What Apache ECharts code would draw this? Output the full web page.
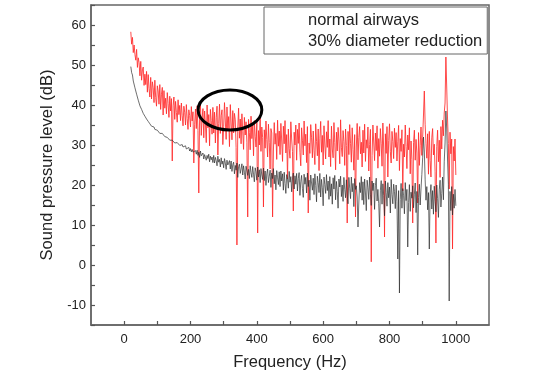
<!DOCTYPE html>
<html>
<head>
<meta charset="utf-8">
<script src="https://cdn.jsdelivr.net/npm/echarts@6/dist/echarts.min.js"></script>
<style>
html,body{margin:0;padding:0;background:#fff;}
#chart{width:559px;height:377px;}
</style>
</head>
<body>
<div id="chart"></div>
<script>
// Frequency grid (Hz): uniform FFT bins from 20 Hz to 1000 Hz, 2.5 Hz apart
var freqStart = 20, freqStep = 2.5;

// Sound pressure level (dB), one value per bin (one row = 50 Hz)
var normalAirways = [
  49.6, 48.1, 47.5, 46.0, 45.6, 44.3, 43.9, 42.7, 42.3, 41.2, 40.9, 39.8, 39.8, 38.9, 38.8, 37.9, 38.0, 37.2, 37.1, 36.5,
  36.6, 35.9, 35.9, 35.3, 35.4, 34.7, 34.8, 34.3, 34.5, 33.9, 34.0, 33.5, 33.7, 33.2, 33.4, 32.9, 33.2, 32.7, 32.9, 32.4,
  32.5, 32.1, 32.2, 31.7, 31.9, 31.4, 31.7, 31.2, 31.4, 30.9, 31.2, 30.7, 31.0, 30.5, 30.8, 30.3, 30.6, 30.1, 30.5, 29.9,
  30.4, 29.7, 30.1, 29.5, 29.9, 29.2, 29.8, 29.0, 29.5, 28.8, 29.4, 28.5, 29.1, 28.3, 28.9, 28.2, 28.7, 27.8, 28.6, 27.7,
  28.7, 27.4, 28.2, 26.9, 28.5, 27.3, 26.8, 28.0, 26.5, 27.6, 27.9, 26.2, 27.4, 26.6, 27.7, 25.8, 27.2, 26.3, 27.0, 25.6,
  27.4, 25.5, 26.9, 26.1, 24.8, 27.2, 25.7, 26.4, 24.5, 26.8, 25.2, 26.0, 24.3, 26.6, 25.5, 23.9, 26.2, 25.0, 24.6, 26.1,
  24.0, 26.0, 23.4, 25.1, 25.7, 22.8, 24.9, 23.7, 25.5, 21.9, 24.6, 25.2, 22.9, 24.0, 25.3, 22.5, 24.8, 23.2, 21.5, 24.7,
  25.0, 22.4, 23.9, 21.6, 24.8, 23.1, 21.9, 24.6, 22.7, 20.8, 24.3, 23.3, 21.2, 24.5, 22.0, 23.8, 20.6, 24.1, 22.5, 21.4,
  24.2, 21.1, 23.5, 19.9, 22.8, 24.0, 20.6, 22.2, 23.7, 19.4, 23.0, 21.6, 24.1, 20.3, 22.5, 18.8, 23.6, 21.8, 20.1, 23.3,
  19.6, 23.5, 21.0, 22.8, 18.7, 23.2, 20.4, 17.9, 22.6, 21.5, 19.2, 23.4, 20.7, 22.1, 18.3, 21.8, 23.0, 19.0, 22.3, 20.2,
  22.9, 18.5, 21.6, 23.1, 17.4, 20.8, 22.4, 19.1, 16.9, 22.7, 20.2, 21.9, 18.0, 23.0, 19.6, 21.2, 16.2, 22.5, 20.5, 18.7,
  21.7, 17.6, 22.8, 19.9, 15.8, 22.2, 20.6, 18.1, 22.9, 17.0, 21.4, 19.3, 14.8, 22.0, 20.1, 17.9, 22.6, 18.6, 21.0, 16.4,
  22.1, 17.2, 20.3, 15.2, 21.8, 19.0, 22.4, 16.3, 20.9, 18.4, 14.2, 21.5, 19.5, 22.2, 17.1, 20.0, 15.9, 21.9, 18.9, 16.8,
  21.3, 17.5, 15.3, 21.9, 19.2, 16.6, 22.0, 18.3, 20.4, 14.6, 21.6, 18.9, 19.8, 17.0,  9.5, 15.5, 20.6, 18.1, 22.1, 16.2,
  20.8, 15.1, 21.5, 18.0, 13.6, 21.2, 19.3, 16.4, 22.0, 17.7, 14.9, 21.0, 18.6, 20.5, 13.9, 19.8, 21.7, 16.0, 18.9, 15.4,
   9.5, 18.7, 21.1, 15.2, 20.3, 17.4, 12.3, 21.0, 18.1, 14.7, 20.6, 16.8, 19.5, 13.0, 21.4, 17.6, 15.3, 20.2, 18.4, 14.1,
  20.0, 15.9,  1.5, 18.6, -7.0, 16.4, 20.4, 14.2, 19.1, 17.3, 12.8, 20.6, 16.1, 18.9,  4.5, 15.6, 20.1, 13.4, 18.2, 16.7,
  19.8, 14.3, 17.7, 20.5, 13.1, 18.4,  2.5, 16.9, 20.2, 15.0, 19.0, 22.6, 26.8, 32.0, 28.5, 21.3, 16.2, 19.6, 13.8, 18.1,
   4.0, 17.5, 20.1, 14.0, 18.6, 12.7, 19.7, 15.9, 13.3, 20.0, 16.6, 11.9, 18.8, 21.2, 14.5, 17.9, 22.0, 16.3, 25.8, 30.5,
  38.5, 34.0, 26.5, 20.2, -9.0, 18.4, 13.6, 19.6, 12.5, 17.7, 14.2, 18.9, 14.8
];

var diameterReduction = [
  58.3, 55.2, 56.9, 53.1, 55.0, 52.6, 51.2, 53.9, 49.4, 51.8, 50.6, 47.3, 50.9, 46.2, 48.8, 49.5, 44.9, 47.7, 45.1, 48.4,
  43.2, 47.6, 44.1, 42.0, 46.9, 41.5, 45.8, 44.3, 40.6, 46.2, 41.9, 39.7, 44.8, 43.5, 40.2, 45.1, 38.9, 42.7, 44.4, 37.5,
  43.6, 39.2, 41.7, 37.8, 43.1, 40.4, 36.9, 42.2, 38.5, 41.6, 26.0, 39.8, 42.0, 36.4, 40.9, 38.1, 35.7, 41.3, 37.6, 39.9,
  36.1, 40.5, 37.3, 34.8, 39.7, 38.2, 35.0, 40.1, 36.6, 33.9, 38.8, 37.4, 34.5, 39.6, 36.0, 38.3, 25.5, 35.2, 39.0, 34.1,
  39.8, 33.6, 18.0, 37.9, 40.3, 32.4, 36.7, 39.1, 31.8, 38.5, 35.2, 30.6, 40.0, 34.3, 37.6, 29.8, 38.9, 36.1, 32.7, 39.4,
  33.0, 38.2, 30.5, 36.8, 39.7, 27.5, 35.4, 40.2, 32.9, 37.3, 38.8, 30.1, 34.6, 40.6, 36.0, 31.4, 39.5, 33.8, 37.1, 29.6,
  40.1, 35.5, 31.3, 38.6, 33.0, 37.9, 36.3, 29.4,  5.0, 34.2, 39.2, 31.7, 36.5, 30.3, 37.8, 33.4, 28.9, 36.9, 32.5, 35.8,
  30.7, 12.0, 36.4, 33.1, 28.8, 37.2, 31.6, 34.9, 27.3, 36.1, 32.2, 29.5, 35.7,  8.0, 33.6, 30.0, 36.8, 28.4, 34.5, 31.9,
  14.5, 33.8, 29.2, 36.0, 31.4, 27.0, 35.2, 30.6, 24.0, 34.1, 33.0, 12.0, 28.5, 35.6, 30.2, 32.9, 26.4, 36.2, 29.7, 33.5,
  27.6, 35.4, 31.0, 25.9, 34.7, 30.3, 36.1, 28.0, 32.6, 21.5, 34.0, 29.1, 26.7, 35.8, 31.5, 28.4, 13.5, 33.2, 30.0, 35.0,
  26.2, 33.9, 30.4, 35.5, 28.1, 24.8, 34.3, 31.2, 27.5, 36.0, 29.8, 32.7, 25.6, 34.6, 13.0, 30.5, 27.9, 35.1, 31.8, 26.8,
  33.5, 28.7, 25.1, 35.3, 30.9, 27.3, 34.0, 23.6, 31.7, 35.9, 28.2, 32.4, 25.0, 34.8, 30.0, 26.5, 33.3, 29.4, 36.1, 27.0,
  31.5, 24.6, 34.7, 29.0, 26.8, 35.6, 30.6, 23.8, 33.2, 28.5, 34.4, 31.0, 25.3, 36.3, 29.3, 27.1, 33.6, 30.8, 24.9, 34.0,
  29.9, 10.5, 33.4, 27.6, 35.1, 30.4, 25.7, 34.3, 28.9, 23.7, 32.6, 12.0, 29.5, 35.4, 26.3, 31.9, 34.6, 27.8, 30.7, 24.5,
  33.7, 28.0, 35.2, 25.9, 31.3, 29.2, 34.5, 23.5, 30.1, 33.9,  0.8, 27.4, 35.0, 30.5, 26.1, 33.0, 28.6, 34.8, 24.2, 31.6,
  27.2, 34.1, 30.3, 24.7, 35.5, 29.0,  7.0, 32.8, 27.9, 34.6, 22.0, 31.1, 35.3, 28.3, 25.5, 33.4, 30.9, 26.6, 34.2, 29.4,
  33.1, 26.0, 30.8, 34.9, 23.6, 31.6, 28.4, 33.8, 18.5, 30.2, 27.0, 35.0, 29.6, 24.1, 32.5, 28.8, 34.3, 22.8, 31.0, 26.4,
  10.5, 30.6, 33.7, 26.2, 31.4, 28.0, 15.5, 33.1, 24.9, 29.8, 34.5, 27.4, 31.9, 37.5, 43.5, 35.2, 30.3, 26.7, 32.8, 22.7,
  33.4, 26.1, 22.0, 31.8, 34.1, 27.5, 30.2, 23.3,  5.5, 29.6, 33.7, 25.8, 31.2, 21.9, 34.6, 29.0, 36.2, 32.3, 38.0, 40.5,
  52.0, 44.5, 36.5, 30.4, 19.0, 33.2, 27.8, 31.5,  4.0, 29.6, 26.0, 31.5, 22.5
];

var seriesNames = ['normal airways', '30% diameter reduction'];
var xTickLabels = ['0', '200', '400', '600', '800', '1000'];
var yTickLabels = ['-10', '0', '10', '20', '30', '40', '50', '60'];

function pairs(vals) {
  var out = [];
  for (var i = 0; i < vals.length; i++) out.push([freqStart + i * freqStep, vals[i]]);
  return out;
}

var chart = echarts.init(document.getElementById('chart'), null, {renderer: 'canvas'});
var font = '"Liberation Sans", Arial, sans-serif';

var option = {
  animation: false,
  backgroundColor: '#fff',
  grid: {
    left: 91, right: 70, top: 5, bottom: 52,
    show: true, borderColor: '#666', borderWidth: 1.5, backgroundColor: 'transparent'
  },
  legend: {
    data: [
      {name: seriesNames[0], icon: 'none'},
      {name: seriesNames[1], icon: 'none'}
    ],
    orient: 'vertical',
    left: 264, top: 7,
    padding: [5, 5, 4, 9],
    itemWidth: 30, itemHeight: 14, itemGap: 4,
    borderColor: '#666', borderWidth: 1, borderRadius: 0,
    backgroundColor: '#fff',
    selectedMode: false,
    textStyle: {fontFamily: font, fontSize: 16.5, color: '#222', lineHeight: 16}
  },
  xAxis: {
    type: 'value',
    min: -100, max: 1100, interval: 100,
    name: 'Frequency (Hz)',
    nameLocation: 'middle', nameGap: 29,
    nameTextStyle: {fontFamily: font, fontSize: 16.5, color: '#222'},
    axisLine: {show: true, onZero: false, lineStyle: {color: '#666', width: 1.5}},
    axisTick: {show: true, inside: true, length: 4, lineStyle: {color: '#555', width: 1.2}},
    axisLabel: {
      fontFamily: font, fontSize: 13, color: '#222', margin: 8,
      showMinLabel: false, showMaxLabel: false,
      formatter: function (v) {
        var s = String(v);
        return xTickLabels.indexOf(s) >= 0 ? s : '';
      }
    },
    splitLine: {show: false}
  },
  yAxis: {
    type: 'value',
    min: -15, max: 65, interval: 5,
    name: 'Sound pressure level (dB)',
    nameLocation: 'middle', nameGap: 29,
    nameTextStyle: {fontFamily: font, fontSize: 16.5, color: '#222'},
    axisLine: {show: true, onZero: false, lineStyle: {color: '#666', width: 1.5}},
    axisTick: {show: true, inside: true, length: 4, lineStyle: {color: '#555', width: 1.2}},
    axisLabel: {
      fontFamily: font, fontSize: 13, color: '#222', margin: 5,
      formatter: function (v) {
        var s = String(v);
        return yTickLabels.indexOf(s) >= 0 ? s : '';
      }
    },
    splitLine: {show: false}
  },
  series: [
    {
      name: seriesNames[1],
      type: 'line',
      data: pairs(diameterReduction),
      showSymbol: false, symbol: 'none',
      lineStyle: {color: 'rgba(255,45,45,0.85)', width: 1},
      itemStyle: {color: '#ff2d2d'},
      z: 2
    },
    {
      name: seriesNames[0],
      type: 'line',
      data: pairs(normalAirways),
      showSymbol: false, symbol: 'none',
      lineStyle: {color: 'rgba(40,40,40,0.75)', width: 0.9},
      itemStyle: {color: '#333'},
      z: 3
    }
  ]
};
chart.setOption(option);

// Annotation ellipse around ~320 Hz, ~39 dB
var c = chart.convertToPixel({gridIndex: 0}, [319, 38.75]);
var e = chart.convertToPixel({gridIndex: 0}, [319 + 96, 38.75 - 5]);
chart.setOption({
  graphic: [{
    type: 'ellipse',
    shape: {cx: c[0], cy: c[1], rx: Math.abs(e[0] - c[0]), ry: Math.abs(e[1] - c[1])},
    style: {fill: 'none', stroke: '#000', lineWidth: 3},
    z: 100
  }]
});
</script>
</body>
</html>
